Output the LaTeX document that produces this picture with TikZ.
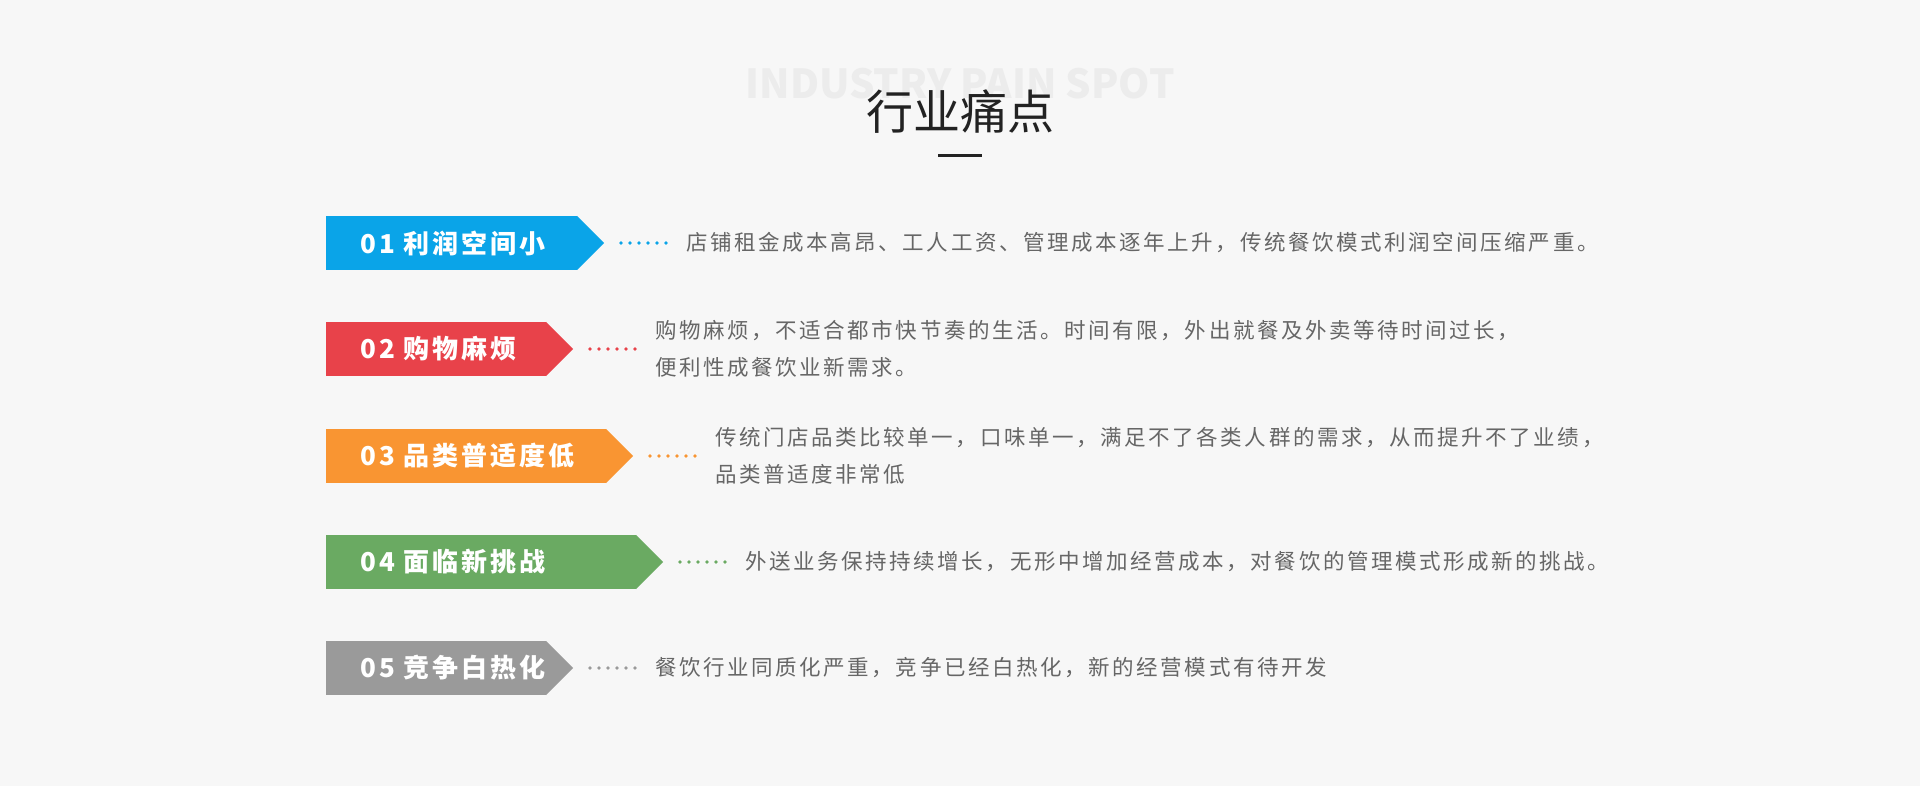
\documentclass[tikz,border=0pt]{standalone}
\usepackage{fontspec}
\setmainfont{Noto Sans CJK SC}
\newfontfamily\tagfont[LetterSpace=11.5]{Noto Sans CJK SC}
\newfontfamily\descfont[LetterSpace=12]{Noto Sans CJK SC}
\usepackage{tikz}
\usetikzlibrary{positioning}
\definecolor{paper}{HTML}{F7F7F7}
\definecolor{ghost}{HTML}{ECECEC}
\definecolor{titlegray}{HTML}{222222}
\definecolor{textgray}{HTML}{666666}
\definecolor{bluetag}{HTML}{0AA4E8}
\definecolor{redtag}{HTML}{E8424A}
\definecolor{orangetag}{HTML}{F99532}
\definecolor{greentag}{HTML}{6AAA62}
\definecolor{graytag}{HTML}{9A9A9A}

\begin{document}
\begin{tikzpicture}[x=1pt,y=-1pt,
    tagbody/.style={fill=#1,minimum height=54pt,inner sep=0pt,outer sep=0pt,anchor=west},
    tagtext/.style={text=white,inner sep=0pt,font=\tagfont\bfseries\fontsize{26}{30}\selectfont},
    desc/.style={text=textgray,inner sep=0pt,align=left,font=\descfont\fontsize{21.5}{37}\selectfont},
    leader/.style={draw=#1,line width=3.8pt,line cap=round,dash pattern=on 0pt off 9pt}]
    \fill[paper] (0,0) rectangle (1920,786);
    \useasboundingbox (0,0) rectangle (1920,786);

    \node[font=\bfseries\fontsize{40}{44}\selectfont,text=ghost,inner sep=0pt] (eng) at (960,84) {INDUSTRY PAIN SPOT};
    \node[font=\fontsize{47}{50}\selectfont,text=titlegray,inner sep=0pt] (title) at (960,112) {行业痛点};
    \draw[titlegray,line width=3pt] (title.south) ++(-22,21) -- ++(44,0);

    \node[tagbody=bluetag,minimum width=251pt] (b1) at (326,243) {};
    \fill[bluetag] (b1.north east) -- ++(27,27) coordinate (p1) -- (b1.south east) -- cycle;
    \node[tagtext,right=34pt of b1.west] (t1) {01 利润空间小};
    \node[desc,right=82pt of p1] (d1) {店铺租金成本高昂、工人工资、管理成本逐年上升，传统餐饮模式利润空间压缩严重。};
    \draw[leader=bluetag] ([xshift=17pt]p1) -- ([xshift=-19.5pt]d1.west);

    \node[tagbody=redtag,minimum width=220pt] (b2) at (326,349) {};
    \fill[redtag] (b2.north east) -- ++(27,27) coordinate (p2) -- (b2.south east) -- cycle;
    \node[tagtext,right=34pt of b2.west] (t2) {02 购物麻烦};
    \node[desc,right=82pt of p2] (d2) {购物麻烦，不适合都市快节奏的生活。时间有限，外出就餐及外卖等待时间过长，\\便利性成餐饮业新需求。};
    \draw[leader=redtag] ([xshift=17pt]p2) -- ([xshift=-19.5pt]d2.west);

    \node[tagbody=orangetag,minimum width=280pt] (b3) at (326,456) {};
    \fill[orangetag] (b3.north east) -- ++(27,27) coordinate (p3) -- (b3.south east) -- cycle;
    \node[tagtext,right=34pt of b3.west] (t3) {03 品类普适度低};
    \node[desc,right=82pt of p3] (d3) {传统门店品类比较单一，口味单一，满足不了各类人群的需求，从而提升不了业绩，\\品类普适度非常低};
    \draw[leader=orangetag] ([xshift=17pt]p3) -- ([xshift=-19.5pt]d3.west);

    \node[tagbody=greentag,minimum width=310pt] (b4) at (326,562) {};
    \fill[greentag] (b4.north east) -- ++(27,27) coordinate (p4) -- (b4.south east) -- cycle;
    \node[tagtext,right=34pt of b4.west] (t4) {04 面临新挑战};
    \node[desc,right=82pt of p4] (d4) {外送业务保持持续增长，无形中增加经营成本，对餐饮的管理模式形成新的挑战。};
    \draw[leader=greentag] ([xshift=17pt]p4) -- ([xshift=-19.5pt]d4.west);

    \node[tagbody=graytag,minimum width=220pt] (b5) at (326,668) {};
    \fill[graytag] (b5.north east) -- ++(27,27) coordinate (p5) -- (b5.south east) -- cycle;
    \node[tagtext,right=34pt of b5.west] (t5) {05 竞争白热化};
    \node[desc,right=82pt of p5] (d5) {餐饮行业同质化严重，竞争已经白热化，新的经营模式有待开发};
    \draw[leader=graytag] ([xshift=17pt]p5) -- ([xshift=-19.5pt]d5.west);
\end{tikzpicture}
\end{document}
